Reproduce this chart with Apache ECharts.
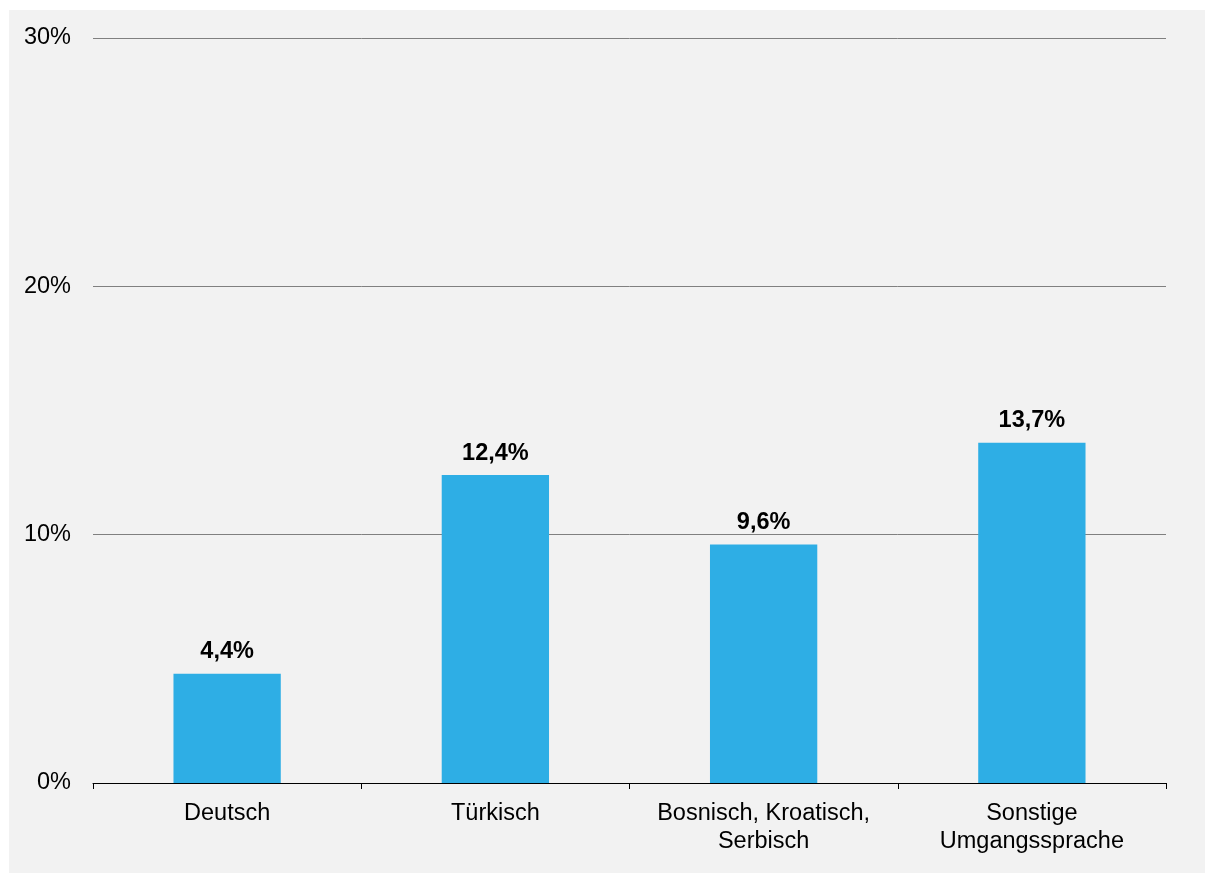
<!DOCTYPE html>
<html><head><meta charset="utf-8">
<script src="https://cdn.jsdelivr.net/npm/echarts@6/dist/echarts.min.js"></script>
<style>
html,body{margin:0;padding:0;background:#fff;width:1205px;height:874px;overflow:hidden}
#c{position:absolute;left:9px;top:10px;width:1196px;height:863px;background:#f2f2f2}
</style></head><body>
<div id="c"></div>
<script>
const categories = ['Deutsch', 'Türkisch', 'Bosnisch, Kroatisch,\nSerbisch', 'Sonstige\nUmgangssprache'];
const values = [4.4, 12.4, 9.6, 13.7];
const yTicks = [0, 10, 20, 30];

const chart = echarts.init(document.getElementById('c'));
chart.setOption({
  backgroundColor: '#f2f2f2',
  animation: false,
  textStyle: { fontFamily: 'Liberation Sans, Arial, sans-serif' },
  grid: { left: 84, right: 39, top: 28, bottom: 90, containLabel: false },
  xAxis: {
    type: 'category',
    data: categories,
    axisLine: { lineStyle: { color: '#000', width: 1 } },
    axisTick: { show: true, interval: 0, length: 6, lineStyle: { color: '#000' } },
    axisLabel: { interval: 0, color: '#000', fontSize: 23.5, lineHeight: 28, margin: 17 }
  },
  yAxis: {
    type: 'value',
    min: yTicks[0], max: yTicks[yTicks.length - 1], interval: 10,
    axisLine: { show: false },
    axisTick: { show: false },
    axisLabel: { color: '#000', fontSize: 23.5, margin: 22, padding: [4, 0, 0, 0], formatter: v => v + '%' },
    splitLine: { lineStyle: { color: '#808080', width: 1 } }
  },
  series: [{
    type: 'bar',
    data: values,
    barWidth: '40%',
    itemStyle: { color: '#2eaee5' },
    label: {
      show: true, position: 'top', distance: 10,
      color: '#000', fontSize: 23.5, fontWeight: 'bold',
      formatter: p => p.value.toString().replace('.', ',') + '%'
    }
  }]
});
</script>
</body></html>
